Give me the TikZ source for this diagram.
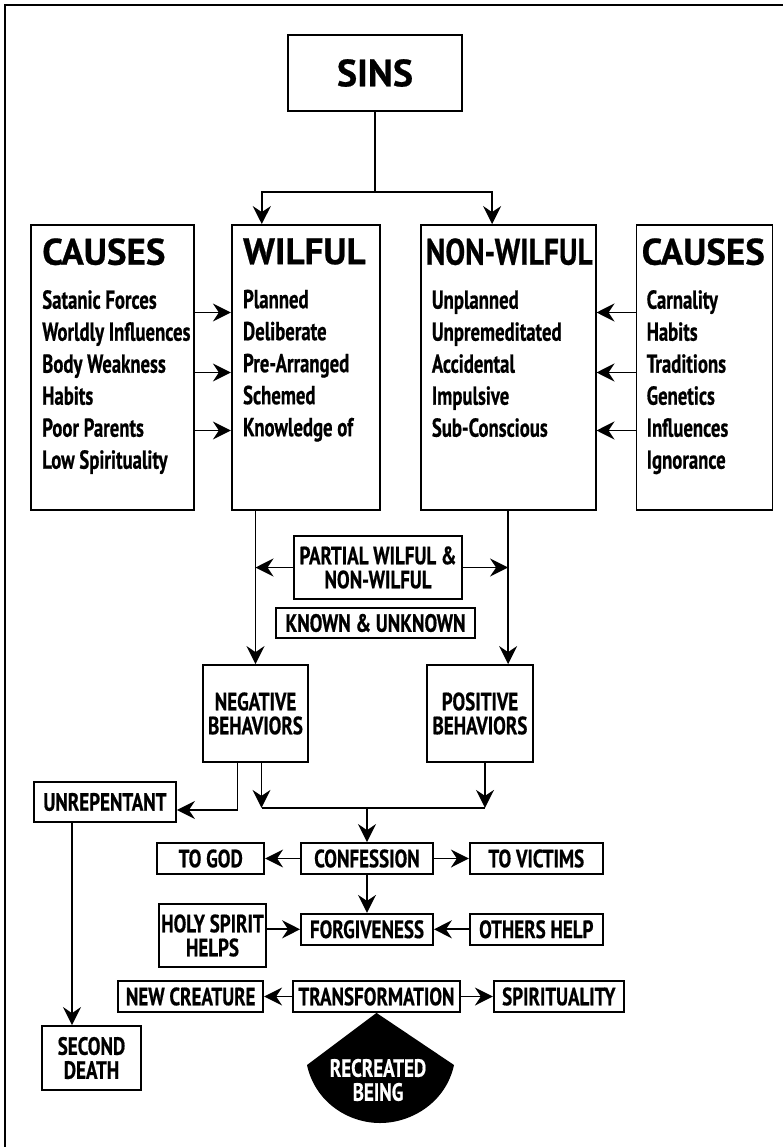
\documentclass[tikz,border=0pt]{standalone}
\usepackage{fontspec}
\setmainfont{PT Sans}[BoldFeatures={FakeBold=0.6}]
\newfontfamily\narrowsf{PT Sans}[FakeStretch=0.72, BoldFeatures={FakeBold=0.6}]
\newfontfamily\capsf{PT Sans}[FakeStretch=0.76, BoldFeatures={FakeBold=0.6}]
\usetikzlibrary{positioning, arrows.meta, calc}

\newcommand\coltitle[1]{{\normalfont\bfseries\fontsize{37}{37}\selectfont #1}}

\begin{document}
\begin{tikzpicture}[
  x=1pt, y=-1pt,
  node distance=35pt,
  box/.style={
    draw, line width=1.8pt, inner sep=0pt, align=center,
    minimum height=31pt, font=\capsf\bfseries\fontsize{25}{24}\selectfont
  },
  column/.style={draw, line width=1.8pt, minimum height=285pt, inner sep=0pt},
  columntext/.style={
    anchor=north west, inner sep=0pt, align=left,
    font=\narrowsf\bfseries\fontsize{26}{32}\selectfont
  },
  arrow/.style={-{Stealth[length=18pt, width=18pt, inset=6pt]}, line width=1.8pt},
  link/.style={line width=1.8pt},
]
\useasboundingbox (0,0) rectangle (783,1147);

% frame, cut off at the right and bottom
\draw[line width=2.5pt] (790,5) -- (5,5) -- (5,1150);

% top box and the four columns
\node[box, minimum width=174pt, minimum height=76pt,
  font=\normalfont\bfseries\fontsize{38}{40}\selectfont] (sins) at (375,73) {SINS};

\node[column, minimum width=163pt] (causesL) at (112.5,367.5) {};
\node[column, minimum width=148pt, right=36pt of causesL] (wilful) {};
\node[column, minimum width=175pt, right=39pt of wilful] (nonwilful) {};
\node[column, minimum width=136pt, right=39pt of nonwilful] (causesR) {};

\node[columntext] (causesLtext) at ([shift={(12,14)}]causesL.north west)
  {\coltitle{CAUSES}\\[12pt] Satanic Forces\\ Worldly Influences\\ Body Weakness\\
   Habits\\ Poor Parents\\ Low Spirituality};
\node[columntext] (wilfultext) at ([shift={(12,14)}]wilful.north west)
  {\coltitle{WILFUL}\\[12pt] Planned\\ Deliberate\\ Pre-Arranged\\ Schemed\\ Knowledge of};
\node[columntext] (nonwilfultext) at ([shift={(6,14)}]nonwilful.north west)
  {\coltitle{\scalebox{0.8}[1]{NON-WILFUL}}\\[12pt] \hspace{6pt}Unplanned\\
   \hspace{6pt}Unpremeditated\\ \hspace{6pt}Accidental\\ \hspace{6pt}Impulsive\\
   \hspace{6pt}Sub-Conscious};
\node[columntext] (causesRtext) at ([shift={(6,14)}]causesR.north west)
  {\coltitle{CAUSES}\\[12pt] \hspace{5pt}Carnality\\ \hspace{5pt}Habits\\
   \hspace{5pt}Traditions\\ \hspace{5pt}Genetics\\ \hspace{5pt}Influences\\
   \hspace{5pt}Ignorance};

% sins split into wilful / non-wilful
\coordinate (fork) at ($(sins.south)+(0,80)$);
\draw[link] (sins.south) -- (fork);
\draw[arrow] (fork) -| ([xshift=-44pt]wilful.north);
\draw[arrow] (fork) -| ([xshift=-16pt]nonwilful.north);

% causes feed in from both sides
\foreach \dy in {55,-5,-63} {
  \draw[arrow] ([yshift=\dy]causesL.east) -- ([yshift=\dy]wilful.west);
  \draw[arrow] ([yshift=\dy]causesR.west) -- ([yshift=\dy]nonwilful.east);
}

% middle part
\node[box, minimum width=168pt, minimum height=63pt] (partial) at (378,567.5)
  {PARTIAL WILFUL \&\\ NON-WILFUL};
\node[box, minimum width=199pt, minimum height=30pt] (known) at (375.5,623)
  {KNOWN \& UNKNOWN};
\node[box, minimum width=105pt, minimum height=97pt] (negative) at (255.5,713.5)
  {NEGATIVE\\ BEHAVIORS};
\node[box, minimum width=106pt, minimum height=97pt] (positive) at (480,713.5)
  {POSITIVE\\ BEHAVIORS};

\draw[arrow] (negative.north |- wilful.south) -- (negative.north);
\draw[arrow] (nonwilful.south) -- (nonwilful.south |- positive.north);
\draw[arrow] (partial.west) -- (partial.west -| negative.north);
\draw[arrow] (partial.east) -- (partial.east -| nonwilful.south);

% lower part
\node[box, minimum width=142pt, minimum height=40pt] (unrepentant) at (105,802) {UNREPENTANT};
\node[box, minimum width=132pt] (confession) at (367,858.5) {CONFESSION};
\node[box, minimum width=107pt, left=of confession] (togod) {TO GOD};
\node[box, minimum width=133pt, right=of confession] (tovictims) {TO VICTIMS};
\node[box, minimum width=132pt, below=38pt of confession] (forgiveness) {FORGIVENESS};
\node[box, minimum width=107pt, minimum height=63pt] (holyspirit) at (212.5,935.5)
  {HOLY SPIRIT\\ HELPS};
\node[box, minimum width=133pt, right=of forgiveness] (othershelp) {OTHERS HELP};
\node[box, minimum width=167pt] (transformation) at (376.5,996.5) {TRANSFORMATION};
\node[box, minimum width=145pt, left=28pt of transformation] (newcreature) {NEW CREATURE};
\node[box, minimum width=130pt, right=32pt of transformation] (spirituality) {SPIRITUALITY};
\node[box, minimum width=99pt, minimum height=64pt] (seconddeath) at (91.5,1058)
  {SECOND\\ DEATH};

\draw[arrow] ([xshift=-18pt]negative.south) |- ([yshift=-8pt]unrepentant.east);
\coordinate (mergeL) at ($(negative.south)+(6,45)$);
\coordinate (mergeR) at ($(positive.south)+(5,45)$);
\draw[arrow] ([xshift=6pt]negative.south) -- (mergeL);
\draw[arrow] ([xshift=5pt]positive.south) -- (mergeR);
\draw[link] (mergeL) -- (mergeR);
\draw[arrow] (confession.north |- mergeL) -- (confession.north);

\draw[arrow] (confession) -- (togod);
\draw[arrow] (confession) -- (tovictims);
\draw[arrow] (confession) -- (forgiveness);
\draw[arrow] (holyspirit.east |- forgiveness.west) -- (forgiveness.west);
\draw[arrow] (othershelp) -- (forgiveness);
\draw[arrow] (transformation) -- (newcreature);
\draw[arrow] (transformation) -- (spirituality);
\draw[arrow] ([xshift=-33pt]unrepentant.south) -- ([xshift=-33pt]unrepentant.south |- seconddeath.north);

% recreated being
\fill (transformation.south) -- (454,1065) .. controls (446,1102) and (412,1123) .. (380,1123)
  .. controls (348,1123) and (315,1102) .. (307,1065) -- cycle;
\node[text=white, align=center, font=\capsf\bfseries\fontsize{25}{24}\selectfont]
  (recreated) at (378,1080) {RECREATED\\ BEING};

\end{tikzpicture}
\end{document}
